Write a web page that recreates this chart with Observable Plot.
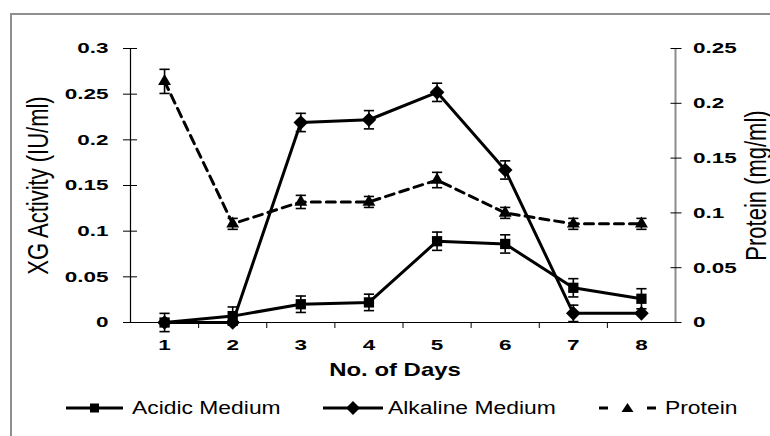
<!DOCTYPE html>
<html>
<head>
<meta charset="utf-8">
<script src="https://cdn.jsdelivr.net/npm/d3@7"></script>
<script src="https://cdn.jsdelivr.net/npm/@observablehq/plot@0.6"></script>
<style>
  html, body { margin: 0; padding: 0; background: white; }
  #wrap { position: relative; width: 770px; height: 436px; overflow: hidden; background: white; font-family: "Liberation Sans", Arial, sans-serif; }
  #frame { position: absolute; left: 10px; top: 13px; right: -10px; bottom: -10px; border-left: 2px solid #8f8f8f; border-top: 2px solid #8f8f8f; }
  #chart { position: absolute; left: 0; top: 0; }
  .leg { position: absolute; top: 398px; height: 20px; }
  .leg svg { position: absolute; top: 0; left: 0; overflow: visible; }
  .leg span { position: absolute; top: 0; line-height: 20px; font-size: 18px; white-space: nowrap; transform: scaleX(1.27); transform-origin: left center; color: #000; }
</style>
</head>
<body>
<div id="wrap">
  <div id="frame"></div>
  <div id="chart"></div>
  <div id="legend"></div>
</div>
<script>
// ---- data ----
const days = [1, 2, 3, 4, 5, 6, 7, 8];
const acidic = [0.000, 0.007, 0.020, 0.022, 0.089, 0.086, 0.038, 0.026];
const acidicErr = [0.010, 0.010, 0.009, 0.009, 0.010, 0.010, 0.010, 0.011];
const alkaline = [0.000, 0.000, 0.219, 0.222, 0.252, 0.167, 0.010, 0.010];
const alkalineErr = [0.000, 0.000, 0.010, 0.010, 0.010, 0.010, 0.009, 0.000];
const protein = [0.22, 0.09, 0.11, 0.11, 0.13, 0.10, 0.09, 0.09];
const proteinErr = [0.011, 0.005, 0.006, 0.005, 0.007, 0.005, 0.005, 0.005];
const leftTicks = [0, 0.05, 0.1, 0.15, 0.2, 0.25, 0.3];
const rightTicks = [0, 0.05, 0.1, 0.15, 0.2, 0.25];
const seriesNames = ["Acidic Medium", "Alkaline Medium", "Protein"];
const xTitle = "No. of Days";
const leftTitle = "XG Activity (IU/ml)";
const rightTitle = "Protein (mg/ml)";

// protein is drawn on the right axis (0..0.25) which maps onto left (0..0.3)
const k = 0.3 / 0.25;

const acidicData = days.map((d, i) => ({day: d, v: acidic[i], e: acidicErr[i]}));
const alkalineData = days.map((d, i) => ({day: d, v: alkaline[i], e: alkalineErr[i]}));
const proteinData = days.map((d, i) => ({day: d, v: protein[i] * k, e: proteinErr[i] * k}));

const capHalf = 0.075;
function errorMarks(data) {
  const ed = data.filter(d => d.e > 0);
  return [
    Plot.ruleX(ed, {x: "day", y1: d => d.v - d.e, y2: d => d.v + d.e, strokeWidth: 1.6}),
    Plot.link(ed, {x1: d => d.day - capHalf, x2: d => d.day + capHalf, y1: d => d.v + d.e, y2: d => d.v + d.e, strokeWidth: 1.6}),
    Plot.link(ed, {x1: d => d.day - capHalf, x2: d => d.day + capHalf, y1: d => d.v - d.e, y2: d => d.v - d.e, strokeWidth: 1.6})
  ];
}
const bounds = d3.range(1.5, 8, 1);

const chart = Plot.plot({
  width: 770,
  height: 385,
  marginLeft: 130,
  marginRight: 95,
  marginTop: 48,
  marginBottom: 63,
  x: {domain: [0.5, 8.5]},
  y: {domain: [0, 0.3]},
  style: {fontFamily: "'Liberation Sans', Arial, sans-serif", color: "black", background: "none", overflow: "visible"},
  marks: [
    Plot.ruleY([0], {stroke: "black", strokeWidth: 1.2}),
    Plot.ruleX([0.5], {stroke: "black", strokeWidth: 1.2}),
    Plot.ruleX([8.5], {stroke: "#8c8c8c", strokeWidth: 2}),
    Plot.axisX(bounds, {tickSize: 6, tickFormat: () => "", label: null}),
    Plot.axisX(days, {tickSize: 0, tickPadding: 17, fontSize: 15, fontWeight: "bold", label: null, tickFormat: d => String(d)}),
    Plot.axisY(leftTicks, {tickSize: 14, dx: 7, tickPadding: 15, fontSize: 15, fontWeight: "bold", label: null, tickFormat: d => String(+d.toFixed(2))}),
    Plot.axisY(rightTicks.map(v => v * k), {anchor: "right", tickSize: 11, dx: -5.5, tickPadding: 12, fontSize: 15, fontWeight: "bold", label: null, tickFormat: d => String(+(d / k).toFixed(2))}),
    // protein (dashed)
    ...errorMarks(proteinData),
    Plot.line(proteinData, {x: "day", y: "v", stroke: "black", strokeWidth: 3, strokeDasharray: "9,6"}),
    Plot.dot(proteinData, {x: "day", y: "v", symbol: "triangle", r: 4.8, fill: "black", stroke: "none"}),
    // acidic
    ...errorMarks(acidicData),
    Plot.line(acidicData, {x: "day", y: "v", stroke: "black", strokeWidth: 3}),
    Plot.dot(acidicData, {x: "day", y: "v", symbol: "square", r: 5.8, fill: "black", stroke: "none"}),
    // alkaline
    ...errorMarks(alkalineData),
    Plot.line(alkalineData, {x: "day", y: "v", stroke: "black", strokeWidth: 3}),
    Plot.dot(alkalineData, {x: "day", y: "v", symbol: "diamond2", r: 6.6, fill: "black", stroke: "none"}),
    // titles
    Plot.text([leftTitle], {text: d => d, frameAnchor: "left", textAnchor: "middle", lineAnchor: "middle", dx: -92, rotate: -90, fontSize: 22}),
    Plot.text([rightTitle], {text: d => d, frameAnchor: "right", textAnchor: "middle", lineAnchor: "middle", dx: 81, rotate: -90, fontSize: 22}),
    Plot.text([xTitle], {text: d => d, frameAnchor: "bottom", textAnchor: "middle", lineAnchor: "middle", dy: 48, dx: -8, fontSize: 18, fontWeight: "bold"})
  ]
});
document.getElementById("chart").appendChild(chart);

// the reference image is horizontally stretched: widen glyphs accordingly
chart.querySelectorAll("text").forEach(t => {
  const tr = t.getAttribute("transform") || "";
  const content = t.textContent.trim();
  if (tr.includes("rotate")) {
    t.setAttribute("transform", tr + " scale(1,1.3)");
  } else {
    const kk = /^[\d.]+$/.test(content) ? 1.5 : 1.33;
    const x = +t.getAttribute("x") || 0, y = +t.getAttribute("y") || 0;
    t.setAttribute("transform", `${tr} translate(${x},${y}) scale(${kk},1) translate(${-x},${-y})`);
  }
});

// ---- legend ----
const legend = document.getElementById("legend");
const ns = "http://www.w3.org/2000/svg";
const legItems = [
  {name: seriesNames[0], x0: 66, x1: 123, tx: 132, sym: "square", dash: null},
  {name: seriesNames[1], x0: 323, x1: 383, tx: 388, sym: "diamond", dash: null},
  {name: seriesNames[2], x0: 599, x1: 656, tx: 665, sym: "triangle", dash: "9,39"}
];
legItems.forEach(it => {
  const div = document.createElement("div");
  div.className = "leg";
  div.style.left = it.x0 + "px";
  const svg = document.createElementNS(ns, "svg");
  const w = it.x1 - it.x0;
  svg.setAttribute("width", w);
  svg.setAttribute("height", 20);
  const line = document.createElementNS(ns, "line");
  line.setAttribute("x1", 0); line.setAttribute("x2", w);
  line.setAttribute("y1", 10); line.setAttribute("y2", 10);
  line.setAttribute("stroke", "black"); line.setAttribute("stroke-width", 3);
  if (it.dash) line.setAttribute("stroke-dasharray", it.dash);
  svg.appendChild(line);
  const cx = w / 2;
  let shape;
  if (it.sym === "square") {
    shape = document.createElementNS(ns, "rect");
    shape.setAttribute("x", cx - 4.5); shape.setAttribute("y", 5.5);
    shape.setAttribute("width", 9); shape.setAttribute("height", 9);
  } else if (it.sym === "diamond") {
    shape = document.createElementNS(ns, "path");
    shape.setAttribute("d", `M${cx},3 L${cx + 7},10 L${cx},17 L${cx - 7},10 Z`);
  } else {
    shape = document.createElementNS(ns, "path");
    shape.setAttribute("d", `M${cx},5 L${cx + 6},14 L${cx - 6},14 Z`);
  }
  shape.setAttribute("fill", "black");
  svg.appendChild(shape);
  div.appendChild(svg);
  const span = document.createElement("span");
  span.textContent = it.name;
  span.style.left = (it.tx - it.x0) + "px";
  div.appendChild(span);
  legend.appendChild(div);
});
</script>
</body>
</html>
